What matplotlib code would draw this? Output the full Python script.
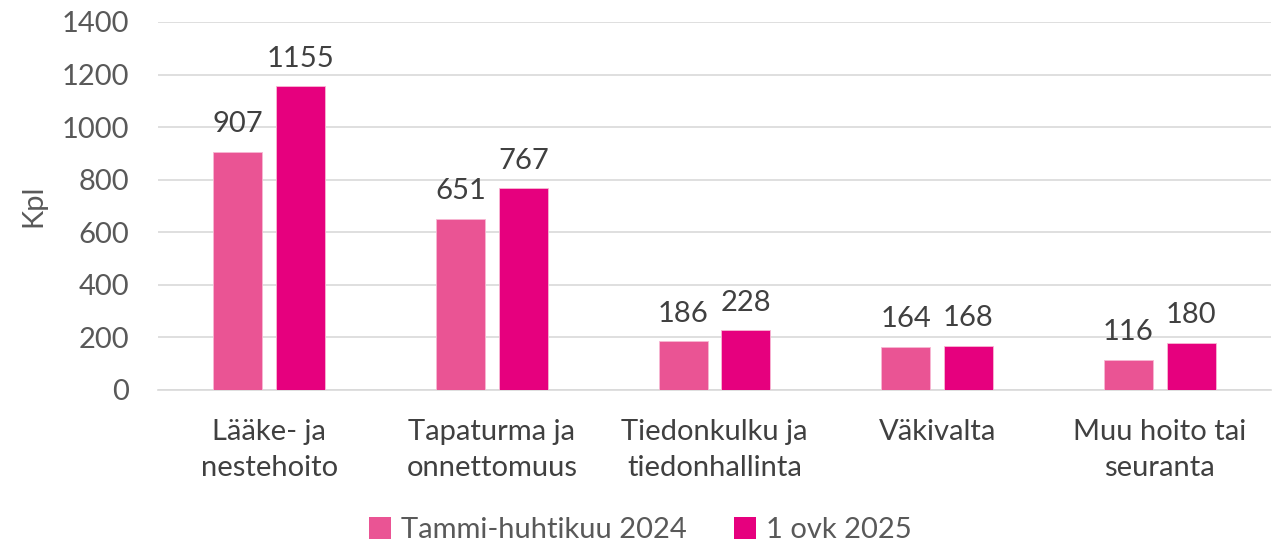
import matplotlib
matplotlib.use("Agg")
import matplotlib.pyplot as plt
import numpy as np

categories = ["Lääke- ja\nnestehoito", "Tapaturma ja\nonnettomuus", "Tiedonkulku ja\ntiedonhallinta", "Väkivalta", "Muu hoito tai\nseuranta"]
series_names = ["Tammi-huhtikuu 2024", "1 ovk 2025"]
values_2024 = [907, 651, 186, 164, 116]
values_2025 = [1155, 767, 228, 168, 180]
colors = ["#EA5494", "#E6007E"]
yticks = [0, 200, 400, 600, 800, 1000, 1200, 1400]

plt.rcParams['font.family'] = ['Lato', 'DejaVu Sans']
FS = 21

fig = plt.figure(figsize=(12.81, 5.45), dpi=100)
ax = fig.add_axes([158/1281, 1 - 390/545, (1271-158)/1281, (390-22)/545])

x = np.arange(len(categories))
w = 0.22
off = 0.141
for vals, name, c, o in [(values_2024, series_names[0], colors[0], -off), (values_2025, series_names[1], colors[1], off)]:
    bars = ax.bar(x + o, vals, width=w, color=c, label=name, edgecolor="#F7B8D3", linewidth=0.6, zorder=3)
    for b, v in zip(bars, vals):
        ax.text(b.get_x() + b.get_width()/2, v + 55, str(v), ha="center", va="bottom",
                fontsize=FS, color="#404040")

ax.set_xlim(-0.5, len(categories) - 0.5)
ax.set_ylim(0, 1400)
ax.set_yticks(yticks)
ax.set_yticklabels([str(t) for t in yticks], fontsize=FS, color="#595959")
ax.set_xticks(x)
ax.set_xticklabels(categories, fontsize=FS, color="#404040", linespacing=1.45)
ax.tick_params(axis="y", length=0, pad=21)
ax.tick_params(axis="x", length=0, pad=21)
ax.yaxis.grid(True, color="#D9D9D9", linewidth=1.2, zorder=0)
for s in ["top", "right", "left"]:
    ax.spines[s].set_visible(False)
ax.spines["bottom"].set_color("#D9D9D9")
ax.spines["bottom"].set_linewidth(1.2)
ax.set_ylabel("Kpl", fontsize=FS, color="#595959")
ax.yaxis.set_label_coords(-112/1113, 0.5)

leg = fig.legend(loc="center", bbox_to_anchor=(0.5, 1 - 530/545), ncol=2, frameon=False,
                 fontsize=FS, handlelength=0.75, handleheight=0.75, handletextpad=0.35,
                 columnspacing=1.6, labelcolor="#595959")
for h in leg.legend_handles:
    h.set_edgecolor("none")

fig.savefig("out.png", dpi=100)
